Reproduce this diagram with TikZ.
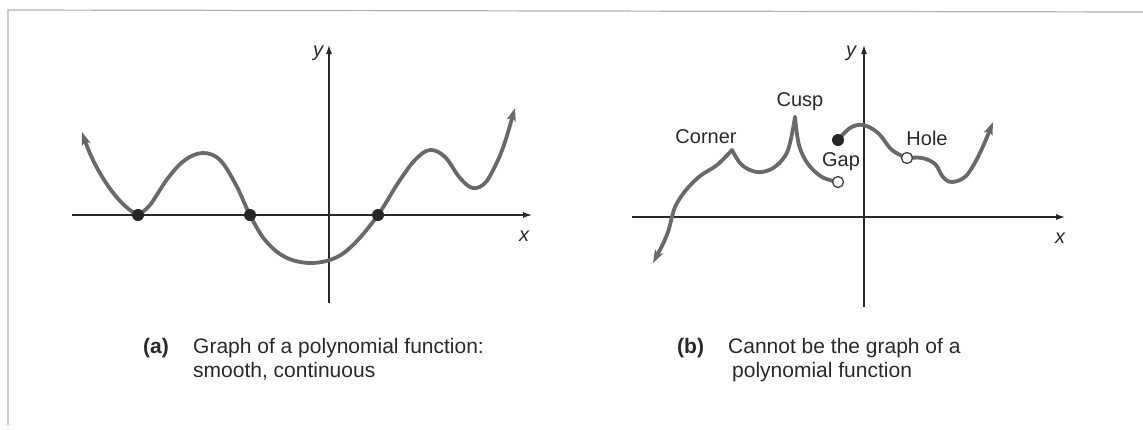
\documentclass[tikz,border=0pt]{standalone}
\usepackage{fontspec}
\setmainfont{Liberation Sans}
\usetikzlibrary{arrows.meta}
\definecolor{curvegray}{RGB}{105,105,105}
\definecolor{axisdark}{RGB}{40,40,40}
\definecolor{textdark}{RGB}{40,40,45}
\definecolor{framegray}{RGB}{175,175,185}
\tikzset{
  axisline/.style={draw=axisdark, line width=1.1pt, -{Latex[length=9pt,width=6pt]}},
  curveline/.style={draw=curvegray, line width=3.8pt, line cap=round, line join=round},
  curvearrow/.style={curveline, -{Stealth[length=13pt,width=9pt,inset=3pt]}},
  zerodot/.style={circle, fill=black!85, inner sep=0pt, minimum size=12pt},
  opendot/.style={circle, draw=black!75, fill=white, line width=1.3pt, inner sep=0pt, minimum size=11pt},
  axlabel/.style={font=\fontsize{20}{22}\selectfont\itshape, text=textdark, inner sep=0pt},
  ptlabel/.style={font=\fontsize{20}{22}\selectfont, text=textdark, inner sep=0pt},
  caplabel/.style={font=\fontsize{21}{24}\selectfont, text=textdark, inner sep=0pt, anchor=base west},
  captag/.style={font=\fontsize{21}{24}\selectfont\bfseries, text=textdark, inner sep=0pt, anchor=base west},
}
\begin{document}
\begin{tikzpicture}[x=1pt,y=-1pt]
\useasboundingbox (0,0) rectangle (1143,429);
% frame
\draw[framegray, line width=1.2pt] (8,425) -- (8,10) -- (1143,12);

% ===== (a) =====
\coordinate (axl) at (72,215);
\coordinate (axr) at (532,215);
\coordinate (ayb) at (329,303);
\coordinate (ayt) at (329,45);
\draw[axisline] (axl) -- (axr);
\draw[axisline] (ayb) -- (ayt);
\node[axlabel] (ya) at (318,53) {y};
\node[axlabel] (xa) at (524,236) {x};

\draw[curveline] plot[smooth, tension=0.6] coordinates {
 (138,215) (150,205) (168,178) (185,160) (203,153) (220,160) (236,185) (250,215)
 (265,240) (285,257) (310,263) (335,258) (355,243) (378,215) (398,183) (415,160)
 (430,150) (445,157) (460,178) (473,188) (486,182) (498,160)};
\draw[curvearrow] (138,215) .. controls (118,206) and (95,170) .. (82,132);
\draw[curvearrow] (498,160) .. controls (505,145) and (510,125) .. (515,108);

\node[zerodot] (za) at (138,215) {};
\node[zerodot] (zb) at (250,215) {};
\node[zerodot] (zc) at (378,215) {};

\node[captag] (tagA) at (143,353) {(a)};
\node[caplabel] (capA1) at (193,353) {Graph of a polynomial function:};
\node[caplabel] (capA2) at (193,377) {smooth, continuous};

% ===== (b) =====
\coordinate (bxl) at (632,217);
\coordinate (bxr) at (1065,217);
\coordinate (byb) at (864,307);
\coordinate (byt) at (864,45);
\draw[axisline] (bxl) -- (bxr);
\draw[axisline] (byb) -- (byt);
\node[axlabel] (yb) at (851,53) {y};
\node[axlabel] (xb) at (1060,238) {x};

% left piece: arrow end to corner
\draw[curvearrow] plot[smooth, tension=0.6] coordinates {
 (732,150) (717,165) (700,176) (686,190) (676,205) (672,217) (668,232) (662,246)} -- (653,263);
% corner to cusp
\draw[curveline] plot[smooth, tension=0.6] coordinates {
 (732,150) (740,163) (750,170) (762,172) (776,166) (788,150) (795,117)};
% cusp to gap
\draw[curveline] plot[smooth, tension=0.6] coordinates {
 (795,117) (799,145) (808,164) (822,177) (838,182)};
% right piece
\draw[curveline] plot[smooth, tension=0.6] coordinates {
 (838,140) (850,128) (863,125) (878,133) (892,150) (907,158)};
\draw[curveline] plot[smooth, tension=0.6] coordinates {
 (907,158) (922,158) (935,164) (943,177) (952,182) (966,176) (978,157)};
\draw[curvearrow] (978,157) .. controls (984,145) and (989,132) .. (993,122);

\node[opendot] (gapopen) at (838,182) {};
\node[zerodot] (gapfill) at (838,140) {};
\node[opendot] (hole) at (907,158) {};

\node[ptlabel] (lcorner) at (706,137) {Corner};
\node[ptlabel] (lcusp) at (800,102) {Cusp};
\node[ptlabel] (lgap) at (841,162) {Gap};
\node[ptlabel] (lhole) at (927,138) {Hole};

\node[captag] (tagB) at (677,353) {(b)};
\node[caplabel] (capB1) at (728,353) {Cannot be the graph of a};
\node[caplabel] (capB2) at (732,377) {polynomial function};
\end{tikzpicture}
\end{document}
